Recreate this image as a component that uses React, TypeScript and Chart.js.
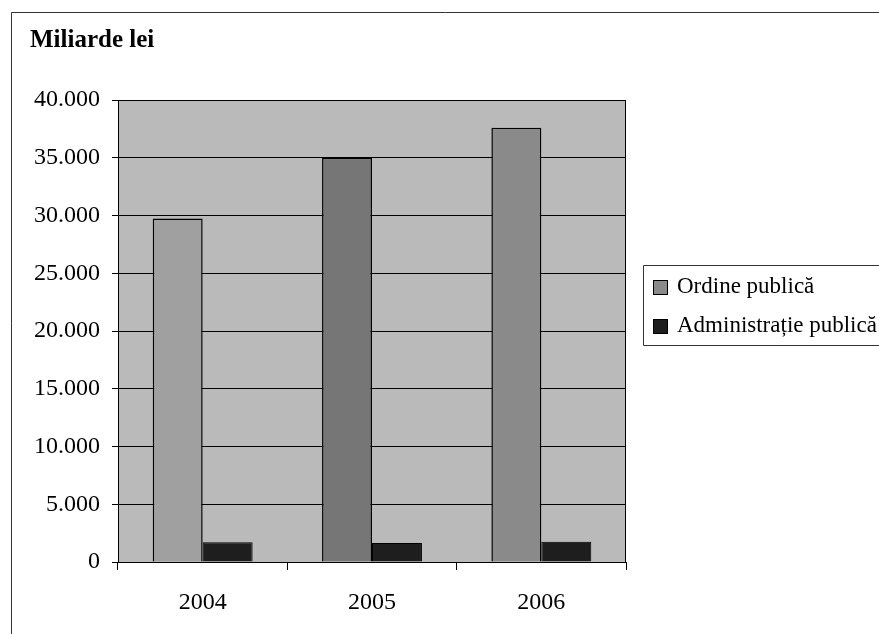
import React, { useEffect, useRef } from "react";
import { Chart, registerables } from "chart.js";

Chart.register(...registerables);

const categories = ["2004", "2005", "2006"];
const ordinePublica = [29750, 35000, 37600];
const administratiePublica = [1700, 1650, 1750];
const seriesNames = ["Ordine publică", "Administrație publică"];
const yTicks = [0, 5000, 10000, 15000, 20000, 25000, 30000, 35000, 40000];
const titleText = "Miliarde lei";

const FONT = "'Liberation Serif', 'Times New Roman', serif";
const ordineColors = ["#a0a0a0", "#767676", "#8a8a8a"];
const adminColor = "#1e1e1e";

const fmt = (v: number) => {
  if (v === 0) return "0";
  const s = Math.round(v).toString();
  return s.replace(/\B(?=(\d{3})+(?!\d))/g, ".");
};

const decorPlugin = {
  id: "decor",
  beforeDraw(chart: any) {
    const { ctx, chartArea } = chart;
    ctx.save();
    ctx.fillStyle = "#ffffff";
    ctx.fillRect(0, 0, chart.width, chart.height);
    ctx.strokeStyle = "#333";
    ctx.lineWidth = 1;
    ctx.beginPath();
    ctx.moveTo(11.5, chart.height);
    ctx.lineTo(11.5, 12.5);
    ctx.lineTo(chart.width, 12.5);
    ctx.stroke();
    ctx.fillStyle = "#bababa";
    ctx.fillRect(chartArea.left, chartArea.top, chartArea.right - chartArea.left, chartArea.bottom - chartArea.top);
    ctx.fillStyle = "#000";
    ctx.font = `bold 25px ${FONT}`;
    ctx.textBaseline = "alphabetic";
    ctx.textAlign = "left";
    ctx.fillText(titleText, 30, 47);
    ctx.restore();
  },
  afterDraw(chart: any) {
    const { ctx, chartArea } = chart;
    ctx.save();
    ctx.strokeStyle = "#000";
    ctx.lineWidth = 1;
    ctx.beginPath();
    ctx.moveTo(chartArea.left, chartArea.top + 0.5);
    ctx.lineTo(chartArea.right - 0.5, chartArea.top + 0.5);
    ctx.lineTo(chartArea.right - 0.5, chartArea.bottom);
    ctx.stroke();
    ctx.strokeStyle = "#333";
    ctx.beginPath();
    ctx.moveTo(chart.width, 265.5);
    ctx.lineTo(643.5, 265.5);
    ctx.lineTo(643.5, 345.5);
    ctx.lineTo(chart.width, 345.5);
    ctx.stroke();
    const rows = [
      { y: 287, color: "#8a8a8a" },
      { y: 326, color: adminColor },
    ];
    ctx.textBaseline = "middle";
    ctx.textAlign = "left";
    rows.forEach((r, i) => {
      ctx.fillStyle = r.color;
      ctx.fillRect(653, r.y - 7, 15, 15);
      ctx.strokeStyle = "#000";
      ctx.strokeRect(653.5, r.y - 6.5, 14, 14);
      ctx.fillStyle = "#000";
      ctx.font = `23px ${FONT}`;
      ctx.fillText(seriesNames[i], 677, r.y);
    });
    ctx.restore();
  },
};

export default function App() {
  const ref = useRef<HTMLCanvasElement>(null);
  useEffect(() => {
    if (!ref.current) return;
    const chart = new Chart(ref.current, {
      type: "bar",
      data: {
        labels: categories,
        datasets: [
          {
            label: seriesNames[0],
            data: ordinePublica,
            backgroundColor: ordineColors,
            borderColor: "#000",
            borderWidth: 1.5,
            borderSkipped: "bottom",
          },
          {
            label: seriesNames[1],
            data: administratiePublica,
            backgroundColor: adminColor,
            borderColor: "#000",
            borderWidth: 1,
            borderSkipped: "bottom",
          },
        ],
      },
      options: {
        responsive: false,
        animation: false,
        events: [],
        layout: { padding: { left: 0, right: 253, top: 100, bottom: 0 } },
        datasets: { bar: { categoryPercentage: 0.59, barPercentage: 1 } },
        plugins: { legend: { display: false }, title: { display: false }, tooltip: { enabled: false } },
        scales: {
          x: {
            grid: { drawOnChartArea: false, tickLength: 8, color: "#000", offset: true },
            border: { color: "#000", width: 1 },
            ticks: { color: "#000", font: { family: FONT, size: 24 }, padding: 18 },
            afterFit: (s: any) => { s.height = 72; },
          },
          y: {
            min: 0,
            max: 40000,
            afterBuildTicks: (s: any) => { s.ticks = yTicks.map((v) => ({ value: v })); },
            grid: { color: "#000", tickLength: 6, lineWidth: 1 },
            border: { color: "#000", width: 1 },
            ticks: { color: "#000", font: { family: FONT, size: 24 }, padding: 12, callback: (v: any) => fmt(Number(v)) },
            afterFit: (s: any) => { s.width = 118; },
          },
        },
      },
      plugins: [decorPlugin],
    });
    return () => chart.destroy();
  }, []);
  return (
    <div style={{ position: "absolute", left: 0, top: 0, width: 879, height: 634 }}>
      <canvas ref={ref} width={879} height={634} style={{ width: 879, height: 634 }} />
    </div>
  );
}
